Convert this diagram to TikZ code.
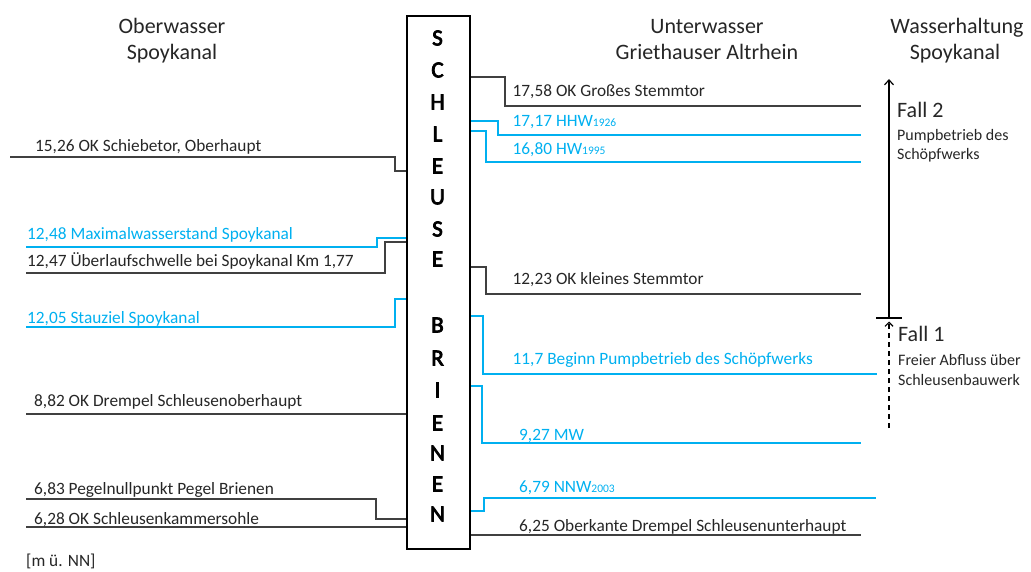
\documentclass[tikz,border=0pt]{standalone}
\usepackage{fontspec}
\setmainfont{Carlito}
\newfontfamily\letterfont{Carlito}[FakeBold=3.5]
\usetikzlibrary{arrows.meta}
\definecolor{wblue}{HTML}{00B0F0}
\definecolor{wgray}{HTML}{404040}
\definecolor{wtext}{HTML}{262626}
\newcommand{\smallsub}[1]{{\fontsize{11.5}{12}\selectfont #1}}
\begin{document}
\begin{tikzpicture}[x=1pt,y=-1pt,
 lvl/.style={line width=1.3pt, draw=wgray},
 lvlb/.style={line width=1.3pt, draw=wblue},
 lab/.style={anchor=base west, inner sep=0pt, font=\fontsize{17.3}{19}\selectfont, text=wtext},
 labb/.style={lab, text=wblue},
 head/.style={anchor=base, inner sep=0pt, font=\fontsize{22}{26}\selectfont, text=wtext},
 fall/.style={anchor=base west, inner sep=0pt, font=\fontsize{22}{26}\selectfont, text=wtext},
 note/.style={anchor=base west, inner sep=0pt, font=\fontsize{16}{18}\selectfont, text=wtext},
 letter/.style={inner sep=0pt, font=\fontsize{23}{26}\letterfont, text=black},
 lockbox/.style={draw=black, line width=1.6pt, fill=white, minimum width=63pt, minimum height=533pt, inner sep=0pt}
]
\useasboundingbox (0,0) rectangle (1031,572);

% headers
\node[head] (h1a) at (172,34) {Oberwasser};
\node[head] (h1b) at (172,60) {Spoykanal};
\node[head] (h2a) at (707,34) {Unterwasser};
\node[head] (h2b) at (707,60) {Griethauser Altrhein};
\node[head] (h3a) at (957,34) {Wasserhaltung};
\node[head] (h3b) at (955,60) {Spoykanal};

% left levels
\draw[lvl]  (10,157) -- (395,157) -- (395,171) -- (406,171);
\draw[lvlb] (26,247) -- (377,247) -- (377,238) -- (406,238);
\draw[lvl]  (26,273) -- (385,273) -- (385,242) -- (406,242);
\draw[lvlb] (26,327) -- (395,327) -- (395,299) -- (406,299);
\draw[lvl]  (26,414) -- (406,414);
\draw[lvl]  (26,499) -- (376,499) -- (376,519) -- (406,519);
\draw[lvl]  (26,527) -- (406,527);

% right levels
\draw[lvl]  (469,77) -- (505,77) -- (505,106) -- (861,106);
\draw[lvlb] (469,121) -- (498,121) -- (498,135) -- (861,135);
\draw[lvlb] (469,131) -- (486,131) -- (486,162) -- (861,162);
\draw[lvl]  (469,267) -- (486,267) -- (486,294) -- (861,294);
\draw[lvlb] (469,316) -- (483,316) -- (483,374) -- (877,374);
\draw[lvlb] (469,386) -- (482,386) -- (482,443) -- (861,443);
\draw[lvlb] (469,511) -- (484,511) -- (484,498) -- (876,498);
\draw[lvl]  (469,535) -- (861,535);

% lock box
\node[lockbox, anchor=north west] (lock) at (406,15) {};
\foreach \ch/\yy [count=\i] in {S/38,C/70,H/102,L/134,E/166,U/197,S/229,E/259,B/325,R/358,I/390,E/423,N/453,E/484,N/514}
  \node[letter] (l\i) at (437.5,\yy) {\ch};

% left labels
\node[lab]  (t1) at (35,151.5) {15,26 OK Schiebetor, Oberhaupt};
\node[labb] (t2) at (27,239.5) {12,48 Maximalwasserstand Spoykanal};
\node[lab]  (t3) at (27,266.5) {12,47 Überlaufschwelle bei Spoykanal Km 1,77};
\node[labb] (t4) at (27,323) {12,05 Stauziel Spoykanal};
\node[lab]  (t5) at (34,406.5) {8,82 OK Drempel Schleusenoberhaupt};
\node[lab]  (t6) at (34,494) {6,83 Pegelnullpunkt Pegel Brienen};
\node[lab]  (t7) at (34,524) {6,28 OK Schleusenkammersohle};
\node[lab]  (unit) at (26,566.5) {[m ü. NN]};

% right labels
\node[lab]  (r1) at (512.5,96.5) {17,58 OK Großes Stemmtor};
\node[labb] (r2) at (512.5,126.5) {17,17 HHW\smallsub{1926}};
\node[labb] (r3) at (512.5,155) {16,80 HW\smallsub{1995}};
\node[lab]  (r4) at (512.5,284.5) {12,23 OK kleines Stemmtor};
\node[labb] (r5) at (512.5,364.5) {11,7 Beginn Pumpbetrieb des Schöpfwerks};
\node[labb] (r6) at (519,440.5) {9,27 MW};
\node[labb] (r7) at (519,492.5) {6,79 NNW\smallsub{2003}};
\node[lab]  (r8) at (519,531.5) {6,25 Oberkante Drempel Schleusenunterhaupt};

% Wasserhaltung arrows
\coordinate (tick) at (889,318);
\coordinate (top) at (889,79);
\coordinate (dbot) at (889,428);
\coordinate (dtop) at (889,321.5);
\coordinate (tickL) at (876,318);
\coordinate (tickR) at (902,318);
\draw[line width=1.2pt, draw=black, -{Straight Barb[length=5pt,width=9pt,line width=1.2pt]}] (tick) -- (top);
\draw[line width=1.2pt, draw=black] (tickL) -- (tickR);
\draw[line width=1.2pt, draw=black, dash pattern=on 5pt off 4pt, -{Straight Barb[length=4pt,width=8pt,line width=1.2pt]}] (dbot) -- (dtop);

\node[fall] (f2) at (897,117.5) {Fall 2};
\node[note] (f2a) at (897,140.5) {Pumpbetrieb des};
\node[note] (f2b) at (897,160) {Schöpfwerks};
\node[fall] (f1) at (898,341.5) {Fall 1};
\node[note] (f1a) at (898,365) {Freier Abfluss über};
\node[note] (f1b) at (898,385) {Schleusenbauwerk};
\end{tikzpicture}
\end{document}
